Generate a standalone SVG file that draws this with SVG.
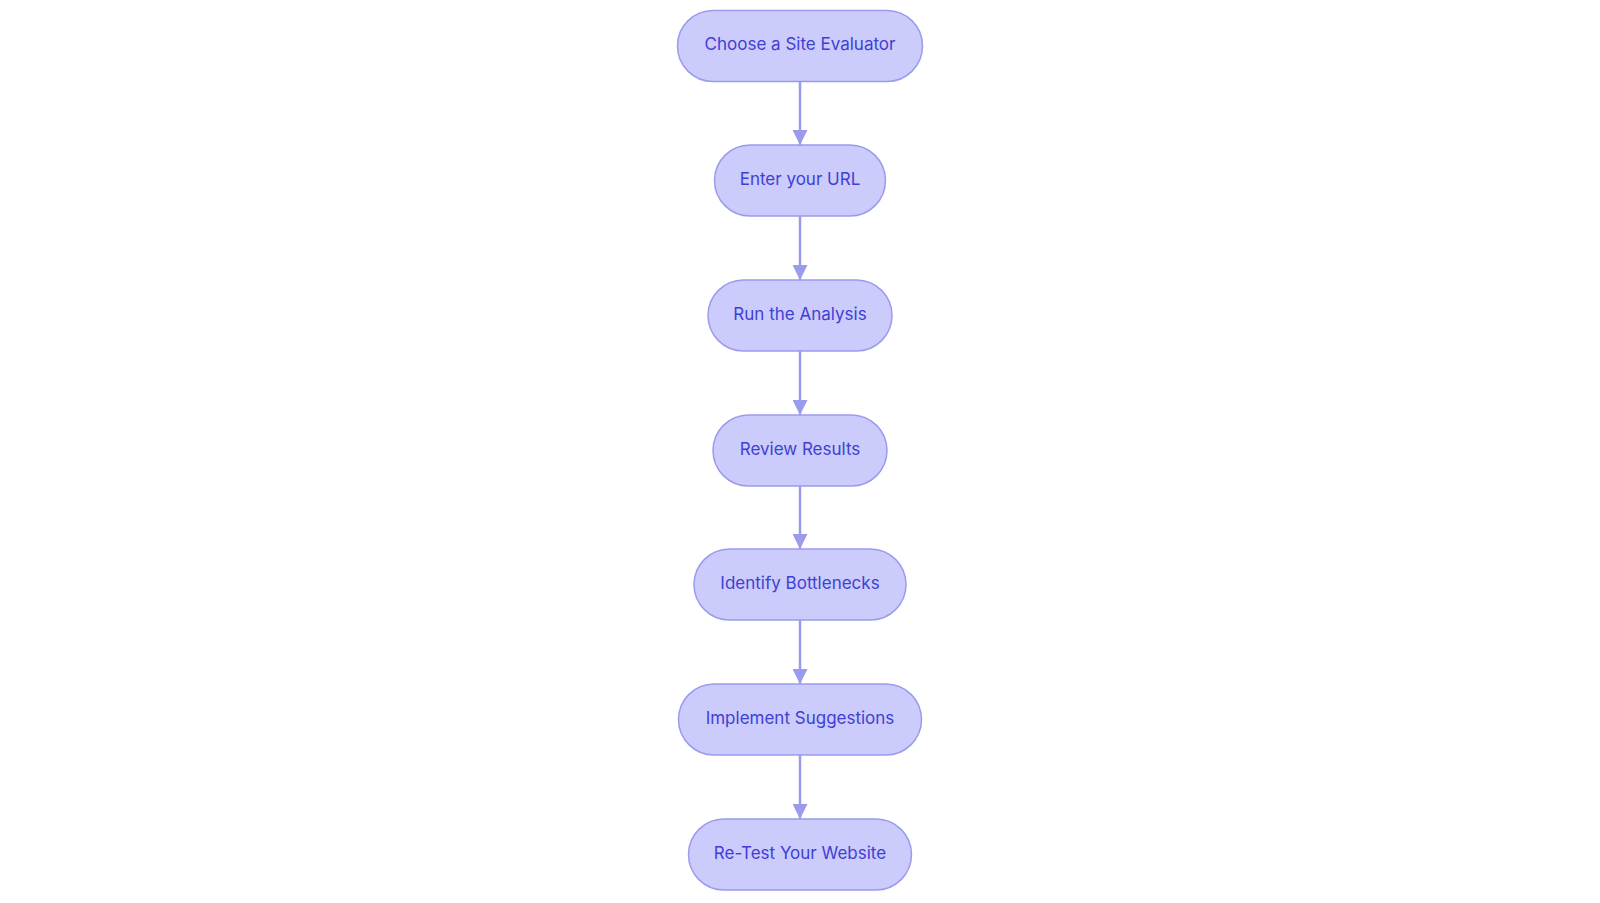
<svg xmlns="http://www.w3.org/2000/svg" width="1600" height="903" viewBox="0 0 1600 903">
<style>
.n rect{fill:#cbcbfc;stroke:#9b9bee;stroke-width:1.5}
.n text{font-family:Inter,"Noto Sans",sans-serif;font-size:17px;fill:#3f3fd4;text-anchor:middle;dominant-baseline:central}
.e{stroke:#9b9bee;stroke-width:2.5;fill:none;marker-end:url(#a)}
</style>
<defs><marker id="a" viewBox="0 0 10 10" refX="10" refY="5" markerWidth="15" markerHeight="15" markerUnits="userSpaceOnUse" orient="auto"><path d="M0,0L10,5L0,10z" fill="#9b9bee"/></marker></defs>
<rect width="1600" height="903" fill="#fff"/>
<g id="connectors">
<line class="e" x1="800" y1="81" x2="800" y2="145"/>
<line class="e" x1="800" y1="216" x2="800" y2="280"/>
<line class="e" x1="800" y1="350" x2="800" y2="415"/>
<line class="e" x1="800" y1="485" x2="800" y2="549"/>
<line class="e" x1="800" y1="620" x2="800" y2="684"/>
<line class="e" x1="800" y1="755" x2="800" y2="819"/>
</g>
<g id="n1" class="n"><rect x="677.5" y="10.5" width="245" height="71" rx="35.5"/><text x="800" y="44">Choose a Site Evaluator</text></g>
<g id="n2" class="n"><rect x="714.5" y="145" width="171" height="71" rx="35.5"/><text x="800" y="179">Enter your URL</text></g>
<g id="n3" class="n"><rect x="708" y="280" width="184" height="71" rx="35.5"/><text x="800" y="314">Run the Analysis</text></g>
<g id="n4" class="n"><rect x="713" y="415" width="174" height="71" rx="35.5"/><text x="800" y="449">Review Results</text></g>
<g id="n5" class="n"><rect x="694" y="549" width="212" height="71" rx="35.5"/><text x="800" y="583">Identify Bottlenecks</text></g>
<g id="n6" class="n"><rect x="678.5" y="684" width="243" height="71" rx="35.5"/><text x="800" y="718">Implement Suggestions</text></g>
<g id="n7" class="n"><rect x="688.5" y="819" width="223" height="71" rx="35.5"/><text x="800" y="853">Re-Test Your Website</text></g>
</svg>
